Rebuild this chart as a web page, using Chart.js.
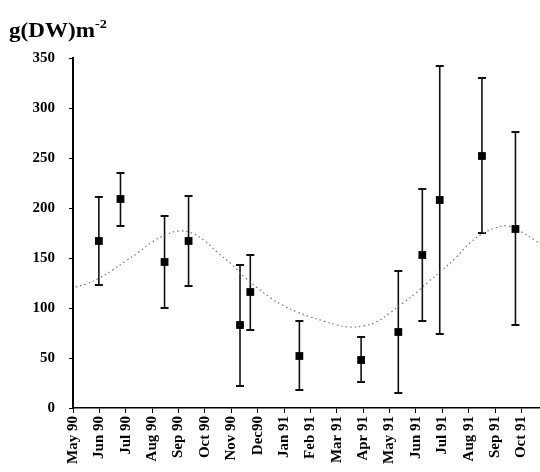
<!DOCTYPE html>
<html>
<head>
<meta charset="utf-8">
<script src="https://cdn.jsdelivr.net/npm/chart.js@4"></script>
<style>
    body { margin: 0; background: #fff; }
    #wrap { position: relative; width: 540px; height: 472px; }
    #unit {
        position: absolute; left: 9px; top: 14px;
        font: bold 21px "Liberation Serif", serif; line-height: 20px; color: #000;
        transform: scaleX(1.1); transform-origin: left top;
    }
    #unit span { font-size: 13px; vertical-align: 9px; }
</style>
</head>
<body>
<div id="wrap">
    <canvas id="biomassChart" width="540" height="472"></canvas>
    <div id="unit">g(DW)m<span>-2</span></div>
</div>
<script>
// Mois de l'axe x (0 = May 90)
const monthLabels = ['May 90', 'Jun 90', 'Jul 90', 'Aug 90', 'Sep 90', 'Oct 90', 'Nov 90', 'Dec90', 'Jan 91',
    'Feb 91', 'Mar 91', 'Apr 91', 'May 91', 'Jun 91', 'Jul 91', 'Aug 91', 'Sep 91', 'Oct 91'];

// Prélèvements : date (en mois depuis May 90), moyenne, borne haute et basse
const sampleMonths = [0.98, 1.80, 3.47, 4.38, 6.33, 6.72, 8.58, 10.92, 12.33, 13.24, 13.90, 15.50, 16.77];
const meanValues   = [167, 209, 146, 167, 83, 116, 52, 48, 76, 153, 208, 252, 179];
const upperValues  = [211, 235, 192, 212, 143, 153, 87, 71, 137, 219, 342, 330, 276];
const lowerValues  = [123, 182, 100, 122, 22, 78, 18, 26, 15, 87, 74, 175, 83];

// Courbe saisonnière ajustée
const curveMonths = [0.1, 0.5, 1, 1.5, 2, 2.5, 3, 3.5, 4, 4.5, 5, 5.5, 6, 6.5, 7, 7.5, 8, 8.5, 9, 9.5,
    10, 10.5, 11, 11.5, 12, 12.5, 13, 13.5, 14, 14.5, 15, 15.5, 16, 16.5, 17, 17.5, 17.7];
const curveValues = [121, 124, 130, 138, 147, 156, 166, 173, 177, 175, 167, 155, 144, 131, 120, 110, 102, 96, 91, 87,
    83, 81, 82, 86, 95, 105, 115, 127, 138, 150, 164, 174, 180, 182, 176, 168, 164];

const yTicks = [0, 50, 100, 150, 200, 250, 300, 350];

// Barres d'erreur dessinées avec les échelles du graphique
const errorBars = {
    id: 'errorBars',
    beforeDatasetsDraw(chart) {
        const ctx = chart.ctx;
        const xs = chart.scales.x;
        const ys = chart.scales.y;
        ctx.save();
        ctx.strokeStyle = '#111';
        sampleMonths.forEach(function (m, i) {
            const x = xs.getPixelForValue(m);
            const top = ys.getPixelForValue(upperValues[i]);
            const bot = ys.getPixelForValue(lowerValues[i]);
            ctx.lineWidth = 1.6;
            ctx.beginPath();
            ctx.moveTo(x, top);
            ctx.lineTo(x, bot);
            ctx.stroke();
            ctx.lineWidth = 2;
            ctx.beginPath();
            ctx.moveTo(x - 4, top);
            ctx.lineTo(x + 4, top);
            ctx.moveTo(x - 4, bot);
            ctx.lineTo(x + 4, bot);
            ctx.stroke();
        });
        ctx.restore();
    }
};

const ctx = document.getElementById('biomassChart').getContext('2d');
const biomassChart = new Chart(ctx, {
    type: 'scatter',
    data: {
        datasets: [{
            label: 'Biomasse',
            data: sampleMonths.map((m, i) => ({ x: m, y: meanValues[i] })),
            pointStyle: 'rect',
            pointRadius: 5.5,
            pointBackgroundColor: '#000',
            pointBorderColor: '#000',
            pointBorderWidth: 0
        }, {
            label: 'Courbe',
            data: curveMonths.map((m, i) => ({ x: m, y: curveValues[i] })),
            showLine: true,
            pointRadius: 0,
            borderColor: '#777',
            borderWidth: 1.2,
            borderDash: [1.5, 3],
            tension: 0.4
        }]
    },
    options: {
        responsive: false,
        animation: false,
        layout: { autoPadding: false, padding: { top: 58, right: 0, bottom: 0, left: 0 } },
        plugins: {
            legend: { display: false },
            tooltip: { enabled: false }
        },
        scales: {
            x: {
                type: 'linear',
                min: 0,
                max: 17.7,
                afterBuildTicks: function (scale) {
                    scale.ticks = monthLabels.map((_, i) => ({ value: i }));
                },
                afterFit: function (scale) {
                    scale.height = 64;
                    scale.paddingLeft = 0;
                    scale.paddingRight = 0;
                },
                grid: {
                    drawOnChartArea: false,
                    drawTicks: true,
                    tickLength: 5,
                    color: '#000',
                    lineWidth: 1
                },
                border: { color: '#000', width: 1.5 },
                ticks: {
                    autoSkip: false,
                    minRotation: 90,
                    maxRotation: 90,
                    padding: 3,
                    color: '#000',
                    font: { family: 'Liberation Serif', size: 15, weight: 'bold' },
                    callback: function (value) {
                        return monthLabels[Math.round(value)];
                    }
                }
            },
            y: {
                min: 0,
                max: 350,
                afterBuildTicks: function (scale) {
                    scale.ticks = yTicks.map(v => ({ value: v }));
                },
                afterFit: function (scale) {
                    scale.width = 73;
                },
                grid: {
                    drawOnChartArea: false,
                    drawTicks: true,
                    tickLength: 4,
                    color: '#000'
                },
                border: { color: '#000', width: 2 },
                ticks: {
                    padding: 14,
                    color: '#000',
                    font: { family: 'Liberation Serif', size: 15, weight: 'bold' }
                }
            }
        }
    },
    plugins: [errorBars]
});
</script>
</body>
</html>
